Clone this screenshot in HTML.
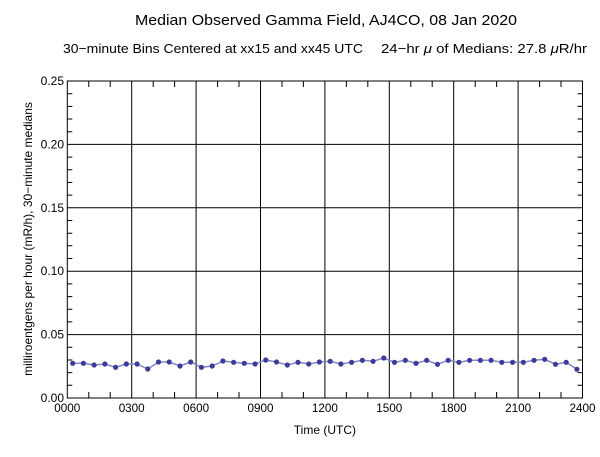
<!DOCTYPE html>
<html><head><style>html,body{margin:0;padding:0;background:#fff;}svg{display:block;}</style></head>
<body>
<svg width="600" height="457" xmlns="http://www.w3.org/2000/svg" font-family="Liberation Sans, sans-serif">
<rect width="600" height="457" fill="#fff"/>
<text x="135" y="25" font-size="15" textLength="382" lengthAdjust="spacingAndGlyphs">Median Observed Gamma Field, AJ4CO, 08 Jan 2020</text>
<text x="63" y="53" font-size="13" textLength="300" lengthAdjust="spacingAndGlyphs">30−minute Bins Centered at xx15 and xx45 UTC</text>
<text x="381" y="53" font-size="13" textLength="206" lengthAdjust="spacingAndGlyphs">24−hr <tspan font-style="italic">μ</tspan> of Medians: 27.8 <tspan font-style="italic">μ</tspan>R/hr</text>
<g stroke="#000" stroke-width="1" fill="none">
<rect x="67.3" y="81" width="515.2" height="317"/>
<path d="M131.7 81V398M196.1 81V398M260.5 81V398M324.9 81V398M389.3 81V398M453.7 81V398M518.1 81V398"/>
<path d="M67.3 144.4H582.5M67.3 207.8H582.5M67.3 271.2H582.5M67.3 334.6H582.5"/>
<path d="M88.8 398v-6M110.2 398v-6M153.2 398v-6M174.6 398v-6M217.6 398v-6M239 398v-6M282 398v-6M303.4 398v-6M346.4 398v-6M367.8 398v-6M410.8 398v-6M432.2 398v-6M475.2 398v-6M496.6 398v-6M539.6 398v-6M561 398v-6"/>
<path d="M88.8 81v6M110.2 81v6M153.2 81v6M174.6 81v6M217.6 81v6M239 81v6M282 81v6M303.4 81v6M346.4 81v6M367.8 81v6M410.8 81v6M432.2 81v6M475.2 81v6M496.6 81v6M539.6 81v6M561 81v6"/>
<path d="M67.3 93.7h5M67.3 106.4h5M67.3 119.0h5M67.3 131.7h5M67.3 157.1h5M67.3 169.8h5M67.3 182.4h5M67.3 195.1h5M67.3 220.5h5M67.3 233.2h5M67.3 245.8h5M67.3 258.5h5M67.3 283.9h5M67.3 296.6h5M67.3 309.2h5M67.3 321.9h5M67.3 347.3h5M67.3 360.0h5M67.3 372.6h5M67.3 385.3h5"/>
<path d="M582.5 93.7h-5M582.5 106.4h-5M582.5 119.0h-5M582.5 131.7h-5M582.5 157.1h-5M582.5 169.8h-5M582.5 182.4h-5M582.5 195.1h-5M582.5 220.5h-5M582.5 233.2h-5M582.5 245.8h-5M582.5 258.5h-5M582.5 283.9h-5M582.5 296.6h-5M582.5 309.2h-5M582.5 321.9h-5M582.5 347.3h-5M582.5 360.0h-5M582.5 372.6h-5M582.5 385.3h-5"/>
</g>
<g font-size="12" text-anchor="end">
<text x="64" y="85">0.25</text><text x="64" y="148.4">0.20</text><text x="64" y="211.8">0.15</text><text x="64" y="275.2">0.10</text><text x="64" y="338.6">0.05</text><text x="64" y="402">0.00</text>
</g>
<g font-size="12" text-anchor="middle">
<text x="67.3" y="412" textLength="26" lengthAdjust="spacingAndGlyphs">0000</text>
<text x="131.7" y="412" textLength="26" lengthAdjust="spacingAndGlyphs">0300</text>
<text x="196.1" y="412" textLength="26" lengthAdjust="spacingAndGlyphs">0600</text>
<text x="260.5" y="412" textLength="26" lengthAdjust="spacingAndGlyphs">0900</text>
<text x="324.9" y="412" textLength="26" lengthAdjust="spacingAndGlyphs">1200</text>
<text x="389.3" y="412" textLength="26" lengthAdjust="spacingAndGlyphs">1500</text>
<text x="453.7" y="412" textLength="26" lengthAdjust="spacingAndGlyphs">1800</text>
<text x="518.1" y="412" textLength="26" lengthAdjust="spacingAndGlyphs">2100</text>
<text x="582.5" y="412" textLength="26" lengthAdjust="spacingAndGlyphs">2400</text>
<text x="324.9" y="434">Time (UTC)</text>
</g>
<text transform="translate(32,239) rotate(-90)" font-size="12" text-anchor="middle">milliroentgens per hour (mR/h), 30−minute medians</text>
<polyline fill="none" stroke="#8585c8" stroke-width="1.5" points="72.7,363.3 83.4,363.3 94.1,365 104.9,364 115.6,367.3 126.3,364 137.1,364 147.8,369 158.5,362 169.2,362 180.0,366 190.7,362 201.4,367.3 212.2,366 222.9,361 233.6,362.3 244.3,363.3 255.1,364 265.8,360 276.5,362 287.3,365 298.0,362.3 308.7,364 319.4,362 330.2,361.3 340.9,364 351.6,362.3 362.4,360.3 373.1,361.3 383.8,358 394.5,362.3 405.3,360.3 416.0,363.3 426.7,360.3 437.5,364.3 448.2,360.3 458.9,362.3 469.6,360.3 480.4,360.3 491.1,360.3 501.8,362.3 512.6,362.3 523.3,362.3 534.0,360.3 544.7,359.3 555.5,364.3 566.2,362.3 576.9,369.3"/>
<g fill="#3c3c98">
<circle cx="72.7" cy="363.3" r="2.6"/><circle cx="83.4" cy="363.3" r="2.6"/><circle cx="94.1" cy="365" r="2.6"/><circle cx="104.9" cy="364" r="2.6"/><circle cx="115.6" cy="367.3" r="2.6"/><circle cx="126.3" cy="364" r="2.6"/><circle cx="137.1" cy="364" r="2.6"/><circle cx="147.8" cy="369" r="2.6"/><circle cx="158.5" cy="362" r="2.6"/><circle cx="169.2" cy="362" r="2.6"/><circle cx="180.0" cy="366" r="2.6"/><circle cx="190.7" cy="362" r="2.6"/><circle cx="201.4" cy="367.3" r="2.6"/><circle cx="212.2" cy="366" r="2.6"/><circle cx="222.9" cy="361" r="2.6"/><circle cx="233.6" cy="362.3" r="2.6"/><circle cx="244.3" cy="363.3" r="2.6"/><circle cx="255.1" cy="364" r="2.6"/><circle cx="265.8" cy="360" r="2.6"/><circle cx="276.5" cy="362" r="2.6"/><circle cx="287.3" cy="365" r="2.6"/><circle cx="298.0" cy="362.3" r="2.6"/><circle cx="308.7" cy="364" r="2.6"/><circle cx="319.4" cy="362" r="2.6"/>
<circle cx="330.2" cy="361.3" r="2.6"/><circle cx="340.9" cy="364" r="2.6"/><circle cx="351.6" cy="362.3" r="2.6"/><circle cx="362.4" cy="360.3" r="2.6"/><circle cx="373.1" cy="361.3" r="2.6"/><circle cx="383.8" cy="358" r="2.6"/><circle cx="394.5" cy="362.3" r="2.6"/><circle cx="405.3" cy="360.3" r="2.6"/><circle cx="416.0" cy="363.3" r="2.6"/><circle cx="426.7" cy="360.3" r="2.6"/><circle cx="437.5" cy="364.3" r="2.6"/><circle cx="448.2" cy="360.3" r="2.6"/><circle cx="458.9" cy="362.3" r="2.6"/><circle cx="469.6" cy="360.3" r="2.6"/><circle cx="480.4" cy="360.3" r="2.6"/><circle cx="491.1" cy="360.3" r="2.6"/><circle cx="501.8" cy="362.3" r="2.6"/><circle cx="512.6" cy="362.3" r="2.6"/><circle cx="523.3" cy="362.3" r="2.6"/><circle cx="534.0" cy="360.3" r="2.6"/><circle cx="544.7" cy="359.3" r="2.6"/><circle cx="555.5" cy="364.3" r="2.6"/><circle cx="566.2" cy="362.3" r="2.6"/><circle cx="576.9" cy="369.3" r="2.6"/>
</g>
</svg>
</body></html>
